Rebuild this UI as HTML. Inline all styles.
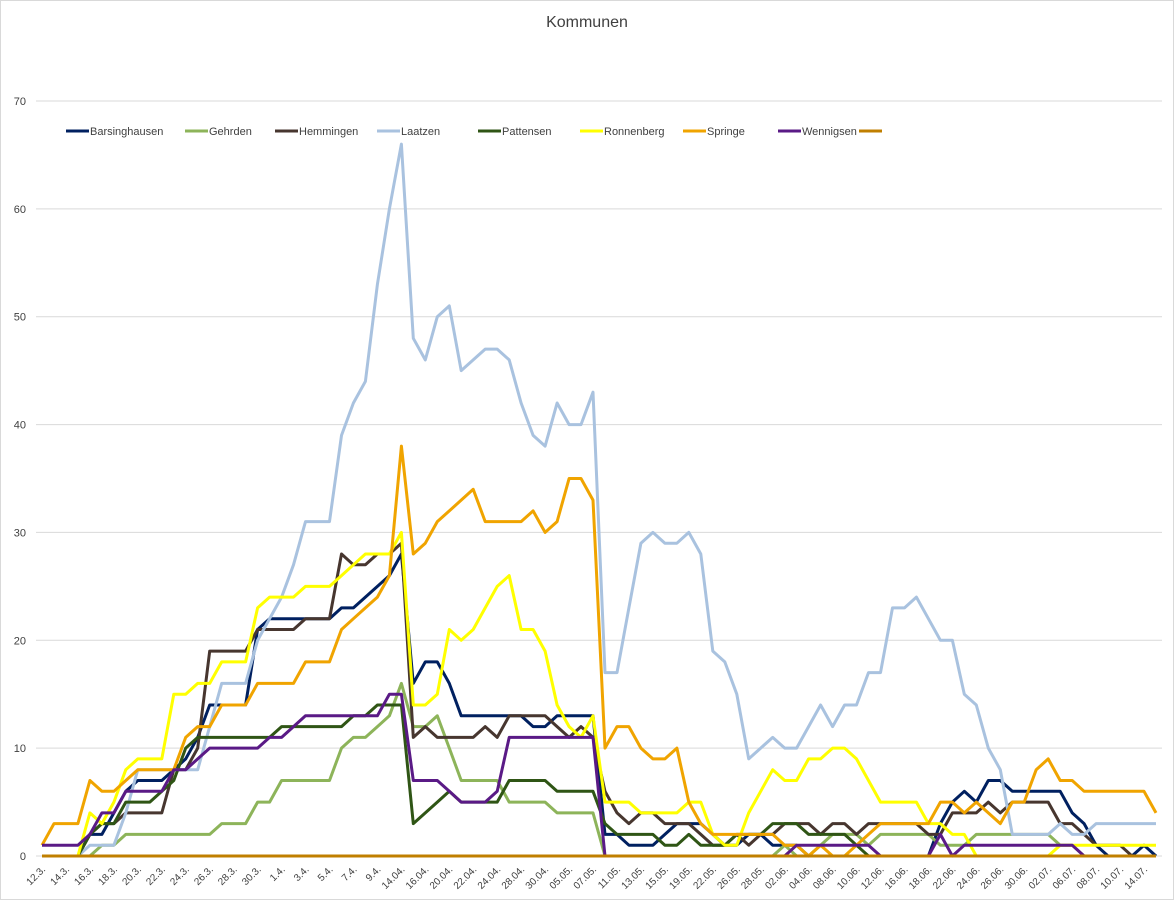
<!DOCTYPE html>
<html><head><meta charset="utf-8"><style>
html,body{margin:0;padding:0;background:#fff;}
#wrap{width:1174px;height:900px;position:relative;overflow:hidden;font-family:"Liberation Sans",sans-serif;}
svg text{font-family:"Liberation Sans",sans-serif;}
</style></head><body>
<div id="wrap">
<svg id="chart" width="1174" height="900">
<rect x="0.5" y="0.5" width="1173" height="899" fill="#fff" stroke="#d9d9d9"/>
<text x="587" y="27" text-anchor="middle" font-size="16" fill="#404040">Kommunen</text>
<g id="grid"></g><g id="xlabels"></g><g id="series"></g><g id="legend"></g>
</svg>
</div>
<script>
const yTicks=[0,10,20,30,40,50,60,70];
const xLabels=["12.3.","14.3.","16.3.","18.3.","20.3.","22.3.","24.3.","26.3.","28.3.","30.3.","1.4.","3.4.","5.4.","7.4.","9.4.","14.04.","16.04.","20.04.","22.04.","24.04.","28.04.","30.04.","05.05.","07.05.","11.05.","13.05.","15.05.","19.05.","22.05.","26.05.","28.05.","02.06.","04.06.","08.06.","10.06.","12.06.","16.06.","18.06.","22.06.","24.06.","26.06.","30.06.","02.07.","06.07.","08.07.","10.07.","14.07."];
const seriesNames=["Barsinghausen","Gehrden","Hemmingen","Laatzen","Pattensen","Ronnenberg","Springe","Wennigsen",""];
const barsinghausen=[0,0,0,0,2,2,4,6,7,7,7,8,9,11,14,14,14,14,21,22,22,22,22,22,22,23,23,24,25,26,28,16,18,18,16,13,13,13,13,13,13,12,12,13,13,13,13,2,2,1,1,1,2,3,3,3,2,1,1,2,2,1,1,1,0,0,0,0,0,0,0,0,0,0,0,3,5,6,5,7,7,6,6,6,6,6,4,3,1,0,0,0,1,0];
const gehrden=[0,0,0,0,0,1,1,2,2,2,2,2,2,2,2,3,3,3,5,5,7,7,7,7,7,10,11,11,12,13,16,12,12,13,10,7,7,7,7,5,5,5,5,4,4,4,4,0,0,0,0,0,0,0,0,0,0,0,0,0,0,0,1,0,0,1,2,2,2,1,2,2,2,2,2,1,1,1,2,2,2,2,2,2,2,1,1,0,0,0,0,0,0,0];
const hemmingen=[0,0,0,0,2,3,3,4,4,4,4,8,8,10,19,19,19,19,21,21,21,21,22,22,22,28,27,27,28,28,29,11,12,11,11,11,11,12,11,13,13,13,13,12,11,12,11,6,4,3,4,4,3,3,3,2,1,1,2,1,2,2,3,3,3,2,3,3,2,3,3,3,3,3,2,2,4,4,4,5,4,5,5,5,5,3,3,2,1,1,1,0,0,0];
const laatzen=[0,0,0,0,1,1,1,4,8,8,8,8,8,8,12,16,16,16,20,22,24,27,31,31,31,39,42,44,53,60,66,48,46,50,51,45,46,47,47,46,42,39,38,42,40,40,43,17,17,23,29,30,29,29,30,28,19,18,15,9,10,11,10,10,12,14,12,14,14,17,17,23,23,24,22,20,20,15,14,10,8,2,2,2,2,3,2,2,3,3,3,3,3,3];
const pattensen=[0,0,0,0,2,3,3,5,5,5,6,7,10,11,11,11,11,11,11,11,12,12,12,12,12,12,13,13,14,14,14,3,4,5,6,5,5,5,5,7,7,7,7,6,6,6,6,3,2,2,2,2,1,1,2,1,1,1,2,2,2,3,3,3,2,2,2,2,1,0,0,0,0,0,0,0,0,0,0,0,0,0,0,0,0,0,0,0,0,0,0,0,0,0];
const ronnenberg=[0,0,0,0,4,3,5,8,9,9,9,15,15,16,16,18,18,18,23,24,24,24,25,25,25,26,27,28,28,28,30,14,14,15,21,20,21,23,25,26,21,21,19,14,12,11,13,5,5,5,4,4,4,4,5,5,2,1,1,4,6,8,7,7,9,9,10,10,9,7,5,5,5,5,3,3,2,2,0,0,0,0,0,0,0,1,1,1,1,1,1,1,1,1];
const springe=[1,3,3,3,7,6,6,7,8,8,8,8,11,12,12,14,14,14,16,16,16,16,18,18,18,21,22,23,24,26,38,28,29,31,32,33,34,31,31,31,31,32,30,31,35,35,33,10,12,12,10,9,9,10,5,3,2,2,2,2,2,2,1,1,0,1,0,0,1,2,3,3,3,3,3,5,5,4,5,4,3,5,5,8,9,7,7,6,6,6,6,6,6,4];
const wennigsen=[1,1,1,1,2,4,4,6,6,6,6,8,8,9,10,10,10,10,10,11,11,12,13,13,13,13,13,13,13,15,15,7,7,7,6,5,5,5,6,11,11,11,11,11,11,11,11,0,0,0,0,0,0,0,0,0,0,0,0,0,0,0,0,1,1,1,1,1,1,1,0,0,0,0,0,2,0,1,1,1,1,1,1,1,1,1,1,0,0,0,0,0,0,0];
const blank=new Array(94).fill(0);
const allSeries=[barsinghausen,gehrden,hemmingen,laatzen,pattensen,ronnenberg,springe,wennigsen,blank];
const colors=["#002060","#8db45a","#47362f","#a9c2df","#2f5515","#ffff00","#f0a400","#5a1a86","#c07f00"];

const NS="http://www.w3.org/2000/svg";
const X0=42,X1=1156,Y0=856,YMAX=70,YTOP=101;
const nPts=barsinghausen.length;
function xScale(i){return X0+i*(X1-X0)/(nPts-1);}
function yScale(v){return Y0-v*(Y0-YTOP)/YMAX;}
function mk(tag,attrs,parent){const e=document.createElementNS(NS,tag);for(const k in attrs)e.setAttribute(k,attrs[k]);parent.appendChild(e);return e;}

const grid=document.getElementById('grid');
yTicks.forEach(t=>{
  const y=yScale(t);
  const l=mk('line',{x1:36,x2:1162,y1:y,y2:y,stroke:'#d9d9d9','stroke-width':1},grid);
  
  
  const tx=mk('text',{x:26,y:y+4,'text-anchor':'end','font-size':11,fill:'#404040'},grid);
  tx.textContent=t;
  
  
});
const xl=document.getElementById('xlabels');
xLabels.forEach((lab,k)=>{
  const x=xScale(k*2);
  const t=mk('text',{x:x+4,y:870,'text-anchor':'end','font-size':10,fill:'#404040',transform:`rotate(-45 ${x+4} 870)`},xl);
  t.textContent=lab;
  
  
});
const sg=document.getElementById('series');
allSeries.forEach((d,si)=>{
  const pts=d.map((v,i)=>xScale(i).toFixed(1)+','+yScale(v).toFixed(1)).join(' ');
  const p=mk('polyline',{points:pts,fill:'none',stroke:colors[si],'stroke-width':3,'stroke-linejoin':'round'},sg);
  
  
});
const lg=document.getElementById('legend');
const legX=[66,185,275,377,478,580,683,778,859];
seriesNames.forEach((n,si)=>{
  const g=mk('g',{},lg);
  
  
  mk('line',{x1:legX[si],x2:legX[si]+23,y1:131,y2:131,stroke:colors[si],'stroke-width':3},g);
  if(n){const t=mk('text',{x:legX[si]+24,y:135,'font-size':11,fill:'#404040'},g);t.textContent=n;}
});
</script>
</body></html>
